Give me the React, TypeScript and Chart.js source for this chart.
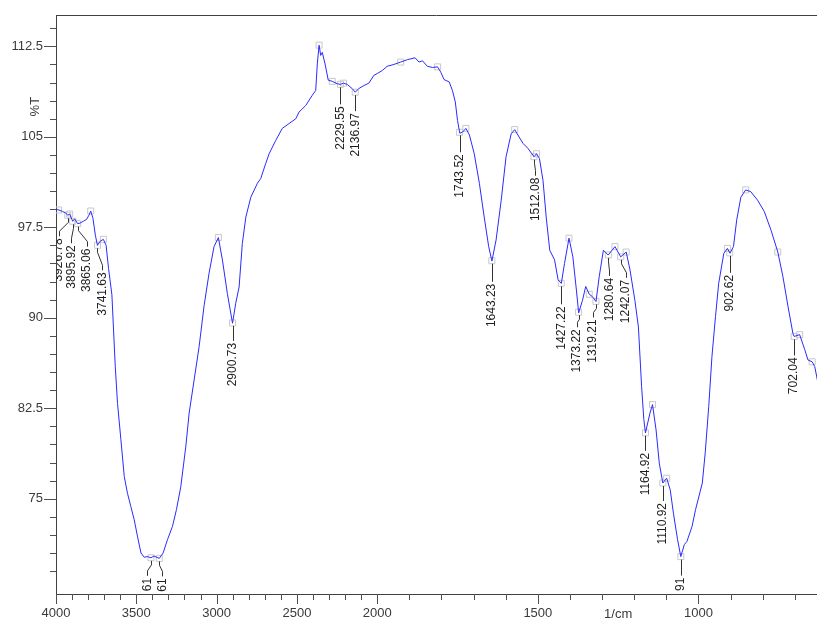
import React, { useEffect, useRef } from 'react';
import { Chart, registerables, LinearScale } from 'chart.js';

// ---------- data ----------
const spectrumWavenumbers = [
  4000, 3975, 3959, 3940, 3927, 3915, 3896, 3884, 3865, 3850, 3830, 3810, 3795, 3784, 3770, 3755, 3742, 3725, 3705, 3688,
  3673, 3652, 3631, 3617, 3596, 3575, 3555, 3534, 3513, 3493, 3471, 3451, 3430, 3409, 3390, 3357, 3333, 3306, 3275, 3250,
  3223, 3192, 3171, 3140, 3109, 3078, 3047, 3016, 2989, 2964, 2933, 2901, 2881, 2860, 2840, 2818, 2787, 2746, 2725, 2694,
  2673, 2632, 2591, 2549, 2507, 2487, 2445, 2404, 2383, 2373, 2362, 2352, 2342, 2325, 2305, 2280, 2249, 2229, 2210, 2187,
  2156, 2137, 2115, 2083, 2052, 2021, 2000, 1984, 1969, 1948, 1927, 1906, 1882, 1870, 1859, 1844, 1828, 1812, 1802, 1792,
  1776, 1766, 1757, 1750, 1743, 1734, 1724, 1713, 1698, 1682, 1667, 1653, 1643, 1630, 1614, 1599, 1583, 1572, 1562, 1546,
  1531, 1512, 1504, 1495, 1484, 1474, 1463, 1448, 1437, 1427, 1417, 1403, 1391, 1380, 1373, 1361, 1351, 1340, 1330, 1319,
  1309, 1296, 1281, 1260, 1242, 1225, 1213, 1198, 1187, 1177, 1170, 1165, 1151, 1143, 1132, 1122, 1111, 1099, 1088, 1078,
  1065, 1055, 1044, 1036, 1020, 1009, 988, 979, 968, 958, 947, 937, 921, 910, 902, 891, 881, 868, 853, 837,
  816, 795, 774, 753, 737, 721, 706, 702, 685, 669, 659, 646, 638, 627,
];
const spectrumTransmittance = [
  99.0, 98.9, 98.8, 98.7, 98.5, 98.6, 98.0, 98.2, 97.8, 97.85, 98.0, 98.15, 98.5, 98.85, 98.25, 96.85, 96.0, 96.35, 96.5, 96.0,
  94.1, 91.9, 85.95, 82.9, 79.9, 76.85, 75.45, 74.35, 73.25, 71.9, 70.5, 70.15, 70.2, 70.1, 70.25, 70.05, 70.5, 71.6, 72.7, 74.1,
  76.0, 79.3, 82.1, 84.85, 87.6, 91.0, 93.7, 95.9, 96.65, 94.8, 92.0, 89.55, 91.2, 92.55, 96.15, 98.35, 100.0, 101.15, 101.55, 102.8,
  103.6, 104.7, 105.7, 106.1, 106.5, 107.05, 107.6, 108.45, 108.85, 111.05, 112.6, 111.75, 112.0, 111.05, 109.7, 109.6, 109.4, 109.35, 109.45, 109.35,
  109.0, 108.7, 109.0, 109.25, 109.45, 110.1, 110.25, 110.5, 110.85, 111.0, 111.2, 111.4, 111.55, 111.2, 111.3, 110.85, 110.75, 110.8, 110.35, 109.75,
  109.55, 108.85, 107.9, 106.35, 105.3, 105.4, 105.7, 105.15, 103.6, 101.15, 98.35, 95.9, 94.7, 96.45, 99.75, 103.35, 105.25, 105.6, 105.15, 104.45,
  104.05, 103.35, 103.6, 103.2, 101.4, 98.35, 95.6, 94.8, 93.15, 92.85, 94.5, 96.6, 95.05, 92.3, 90.4, 91.45, 92.6, 91.95, 91.75, 91.35,
  93.4, 95.6, 95.2, 95.9, 95.05, 95.45, 93.95, 91.45, 89.25, 84.3, 81.55, 80.45, 82.1, 82.8, 80.7, 77.95, 76.3, 76.7, 75.75, 73.8,
  71.6, 70.2, 71.2, 71.45, 72.7, 74.1, 76.3, 78.8, 82.65, 86.8, 90.1, 92.85, 95.35, 95.75, 95.35, 95.9, 98.1, 100.0, 100.6, 100.45,
  99.75, 98.8, 97.25, 95.45, 93.4, 90.9, 88.7, 88.45, 88.6, 87.35, 86.5, 86.35, 85.95, 84.45,
];

// labelled peaks (troughs of transmittance)
const peakLabels = [
  '3926.78', '3895.92', '3865.06', '3741.63', '61', '61', '2900.73', '2229.55', '2136.97', '1743.52', '1643.23',
  '1512.08', '1427.22', '1373.22', '1319.21', '1280.64', '1242.07', '1164.92', '1110.92', '91', '902.62', '702.04',
];
const peakWavenumbers = [
  3926.78, 3895.92, 3865.06, 3741.63, 3409, 3357, 2900.73, 2229.55, 2136.97, 1743.52, 1643.23,
  1512.08, 1427.22, 1373.22, 1319.21, 1280.64, 1242.07, 1164.92, 1110.92, 1055, 902.62, 702.04,
];
// unlabelled picked points (small squares)
const markerWavenumbers = [
  3984, 3915, 3784, 3705, 2989, 2362, 2280, 2210, 1927, 1812, 1724, 1572, 1504, 1403, 1340, 1260, 1225, 1143, 1099,
  910, 853, 753, 685, 646,
];

const xTickLabels = ['4000', '3500', '3000', '2500', '2000', '1500', '1000'];
const yTickLabels = ['75', '82.5', '90', '97.5', '105', '112.5'];
const xUnitLabel = '1/cm';
const yAxisTitle = '%T';

// ---------- layout / style (not data) ----------
const labelDx = [-9, -1.5, 9.5, 5, -3.5, 3, 0, 0, 0, 0, 0, 1.5, 0, -1.5, -3, 1, 5, 0, 0, 0, 0, 0];
const labelDrop = [23, 24, 25, 27, 20, 20, 20, 22, 21, 22, 23, 21, 23, 17, 18, 23, 23, 20, 20, 21, 22, 21];

const FONT = '"Liberation Sans", Arial, sans-serif';
const AXIS_COLOR = '#404040';
const TICK_COLOR = '#505050';
const TEXT_COLOR = '#3a3a3a';
const LABEL_COLOR = '#1e1e1e';
const LEADER_COLOR = '#333333';
const LINE_COLOR = '#2a2aff';
const MARKER_COLOR = '#c8c8c8';

function transmittanceAt(w: number): number {
  const W = spectrumWavenumbers;
  const T = spectrumTransmittance;
  for (let i = 0; i < W.length - 1; i++) {
    if (w <= W[i] && w >= W[i + 1]) {
      const f = (W[i] - w) / (W[i] - W[i + 1]);
      return T[i] + f * (T[i + 1] - T[i]);
    }
  }
  return T[T.length - 1];
}

// Split wavenumber scale: expanded x2 below 2000 cm-1, reversed (high on left)
class SplitScale extends (LinearScale as any) {
  static id = 'split';
  static defaults = (LinearScale as any).defaults;
  toU(v: number): number {
    const brk = 2000;
    const hi = (this as any).max;
    return v >= brk ? hi - v : (hi - brk) + 2 * (brk - v);
  }
  getPixelForValue(value: number): number {
    const s: any = this;
    const uMax = this.toU(s.min);
    return s.left + (this.toU(value) / uMax) * s.width;
  }
  getValueForPixel(pixel: number): number {
    const s: any = this;
    const brk = 2000;
    const uMax = this.toU(s.min);
    const u = ((pixel - s.left) / s.width) * uMax;
    return u <= s.max - brk ? s.max - u : brk - (u - (s.max - brk)) / 2;
  }
}

Chart.register(...registerables, SplitScale as any);

const decorPlugin = {
  id: 'ftirDecor',
  afterDraw(chart: any) {
    const { ctx, chartArea: a, scales } = chart;
    const x = scales.x;
    const y = scales.y;
    ctx.save();
    ctx.lineWidth = 1;
    // top frame line
    ctx.strokeStyle = AXIS_COLOR;
    ctx.beginPath();
    ctx.moveTo(a.left, a.top + 0.5);
    ctx.lineTo(a.right, a.top + 0.5);
    ctx.stroke();
    // x ticks
    ctx.strokeStyle = TICK_COLOR;
    ctx.beginPath();
    x.ticks.forEach((t: any, i: number) => {
      const px = Math.round(x.getPixelForTick(i)) + 0.5;
      const major = xTickLabels.includes(String(t.value));
      ctx.moveTo(px, a.bottom);
      ctx.lineTo(px, a.bottom + (major ? 10 : 6));
    });
    // y ticks
    y.ticks.forEach((t: any, i: number) => {
      const py = Math.round(y.getPixelForTick(i)) + 0.5;
      const major = yTickLabels.includes(String(t.value));
      ctx.moveTo(a.left, py);
      ctx.lineTo(a.left - (major ? 12 : 6), py);
    });
    ctx.stroke();
    // axis titles
    ctx.fillStyle = TEXT_COLOR;
    ctx.font = '13px ' + FONT;
    ctx.textAlign = 'center';
    ctx.textBaseline = 'middle';
    ctx.fillText(xUnitLabel, x.getPixelForValue(1250), a.bottom + 20);
    ctx.save();
    ctx.translate(a.left - 21, y.getPixelForValue(107.5));
    ctx.rotate(-Math.PI / 2);
    ctx.fillText(yAxisTitle, 0, 0);
    ctx.restore();
    // peak labels with leaders, clipped to plot area
    ctx.beginPath();
    ctx.rect(a.left + 1, a.top, a.right - a.left - 1, a.bottom - a.top);
    ctx.clip();
    ctx.font = '12px ' + FONT;
    ctx.strokeStyle = LEADER_COLOR;
    ctx.fillStyle = LABEL_COLOR;
    peakWavenumbers.forEach((w, i) => {
      const mx = x.getPixelForValue(w);
      const my = y.getPixelForValue(transmittanceAt(w));
      const dx = labelDx[i];
      const tx = mx + dx;
      const ty = my + labelDrop[i];
      const lx1 = Math.round(mx) + 0.5;
      const lx2 = Math.round(tx) + 0.5;
      ctx.beginPath();
      ctx.moveTo(lx1, my + 3);
      if (Math.abs(dx) < 1) {
        ctx.lineTo(lx1, ty - 2);
      } else {
        ctx.lineTo(lx1, my + 7);
        ctx.lineTo(lx2, ty - 7);
        ctx.lineTo(lx2, ty - 2);
      }
      ctx.stroke();
      ctx.save();
      ctx.translate(tx, ty);
      ctx.rotate(-Math.PI / 2);
      ctx.textAlign = 'right';
      ctx.textBaseline = 'middle';
      ctx.fillText(peakLabels[i], 0, 0);
      ctx.restore();
    });
    ctx.restore();
  },
};

export default function App() {
  const canvasRef = useRef<HTMLCanvasElement | null>(null);

  useEffect(() => {
    document.body.style.margin = '0';
    const canvas = canvasRef.current;
    if (!canvas) return;

    const spectrum = spectrumWavenumbers.map((w, i) => ({ x: w, y: spectrumTransmittance[i] }));
    const markers = [...peakWavenumbers, ...markerWavenumbers].map((w) => ({ x: w, y: transmittanceAt(w) }));

    const chart = new Chart(canvas, {
      type: 'line',
      data: {
        datasets: [
          {
            data: spectrum,
            borderColor: LINE_COLOR,
            borderWidth: 1,
            pointRadius: 0,
            tension: 0,
            fill: false,
            order: 1,
          } as any,
          {
            data: markers,
            showLine: false,
            pointStyle: 'rect',
            pointRadius: 4.25,
            pointBorderWidth: 1,
            pointBorderColor: MARKER_COLOR,
            pointBackgroundColor: 'rgba(0,0,0,0)',
            order: 2,
          } as any,
        ],
      },
      options: {
        animation: false,
        responsive: false,
        events: [],
        layout: { autoPadding: false, padding: { top: 15, left: 0, right: 0, bottom: 0 } },
        plugins: { legend: { display: false }, tooltip: { enabled: false } },
        scales: {
          x: {
            type: 'split' as any,
            min: 631,
            max: 4000,
            afterBuildTicks: (scale: any) => {
              const ticks = [];
              for (let v = 4000; v >= scale.min; v -= 100) ticks.push({ value: v });
              scale.ticks = ticks;
            },
            afterFit: (scale: any) => {
              scale.height = 25;
              scale.paddingLeft = 0;
              scale.paddingRight = 0;
              scale.paddingTop = 0;
              scale.paddingBottom = 0;
            },
            ticks: {
              autoSkip: false,
              maxRotation: 0,
              minRotation: 0,
              padding: 12,
              color: TEXT_COLOR,
              font: { family: FONT, size: 13 },
              callback: (v: any) => (xTickLabels.includes(String(v)) ? String(v) : ''),
            },
            grid: { display: false, drawTicks: false },
            border: { display: true, color: AXIS_COLOR, width: 1 },
          } as any,
          y: {
            type: 'linear',
            min: 67.1,
            max: 115.1,
            afterBuildTicks: (scale: any) => {
              const ticks = [];
              for (let i = 0; i <= 30; i++) ticks.push({ value: 69 + i * 1.5 });
              scale.ticks = ticks;
            },
            afterFit: (scale: any) => {
              scale.width = 56;
              scale.paddingLeft = 0;
              scale.paddingRight = 0;
              scale.paddingTop = 0;
              scale.paddingBottom = 0;
            },
            ticks: {
              autoSkip: false,
              padding: 13,
              color: TEXT_COLOR,
              font: { family: FONT, size: 13 },
              callback: (v: any) => (yTickLabels.includes(String(v)) ? String(v) : ''),
            },
            grid: { display: false, drawTicks: false },
            border: { display: true, color: AXIS_COLOR, width: 1 },
          } as any,
        },
      },
      plugins: [decorPlugin as any],
    });

    return () => {
      chart.destroy();
    };
  }, []);

  return (
    <div style={{ width: 817, height: 619 }}>
      <canvas ref={canvasRef} width={817} height={619} style={{ display: 'block' }} />
    </div>
  );
}
